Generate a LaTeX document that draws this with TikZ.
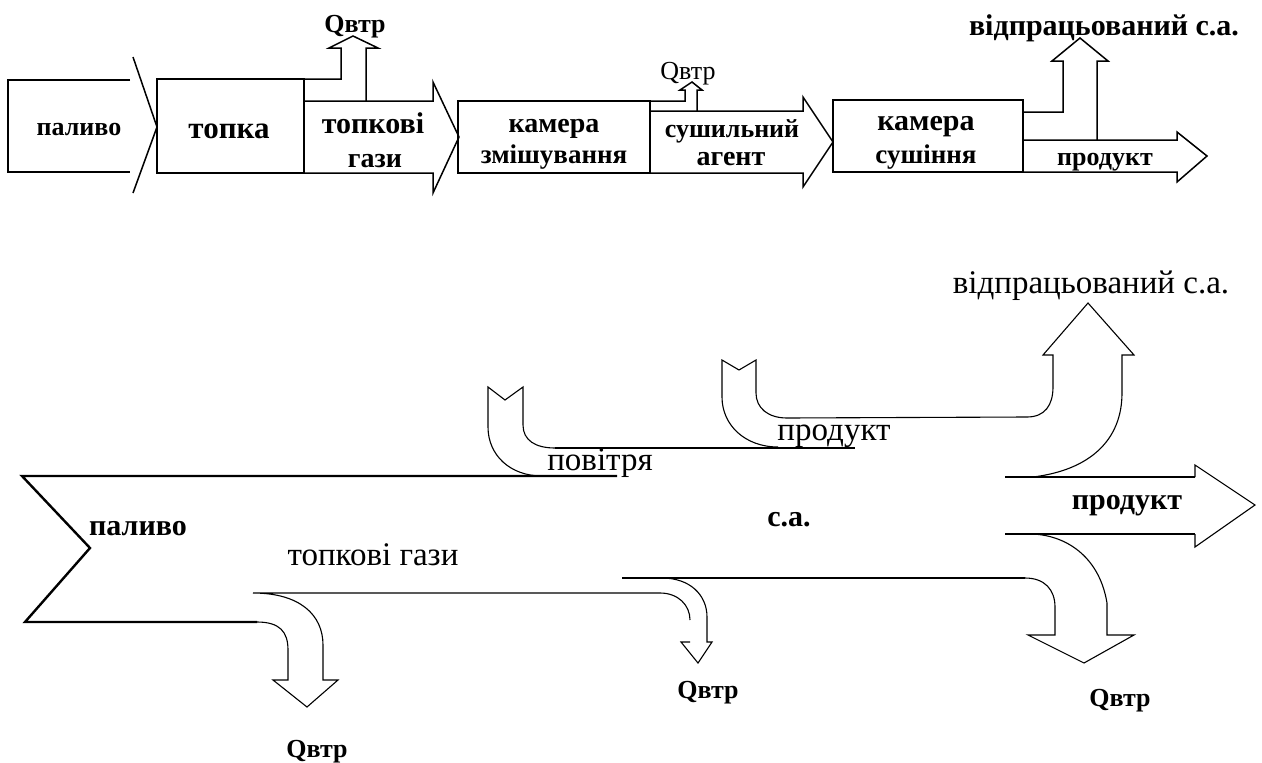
\documentclass[tikz,border=0pt]{standalone}
\usepackage{fontspec}
\setmainfont{Liberation Serif}
\begin{document}
\begin{tikzpicture}[x=1pt,y=-1pt,
  box/.style={draw, line width=1.8pt, inner sep=0pt},
  flow/.style={draw, line width=1.5pt, line join=miter},
  thinflow/.style={draw, line width=1.1pt},
  heavy/.style={draw, line width=2.4pt},
  tlbl/.style={font=\fontsize{26}{30}\selectfont\bfseries, inner sep=0pt, anchor=base},
  blbl/.style={font=\fontsize{33}{36}\selectfont, inner sep=0pt, anchor=base},
  bblbl/.style={font=\fontsize{30}{34}\selectfont\bfseries, inner sep=0pt, anchor=base},
  fs/.style={font=\fontsize{#1}{#1}\selectfont\bfseries},
]
\useasboundingbox (0,0) rectangle (1262,763);

% ---------- upper scheme: boxes and block arrows ----------
% fuel input (open box with chevron)
\draw[flow] (130,80) -- (8,80) -- (8,172) -- (130,172);
\draw[flow] (133,57) -- (157,127) -- (133,193);
\node[box, minimum width=147pt, minimum height=94pt] (topka) at (230.5,126) {};
% flue gases
\draw[flow] (304,101) -- (433,101) -- (433,82) -- (459,137) -- (433,193) -- (433,173) -- (304,173);
\draw[flow] (304,79) -- (341,79) -- (341,48) -- (329,48) -- (353,36) -- (378,48) -- (366,48) -- (366,101);
% mixing chamber
\node[box, minimum width=192pt, minimum height=72pt] (mix) at (554,137) {};
\draw[flow] (650,111) -- (803,111) -- (803,97) -- (833,142) -- (803,187) -- (803,173) -- (650,173);
\draw[flow] (650,101) -- (685,101) -- (685,90) -- (680,90) -- (692,82) -- (702,90) -- (697,90) -- (697,111);
% drying chamber
\node[box, minimum width=190pt, minimum height=72pt] (dry) at (928,136) {};
\draw[flow] (1023,140) -- (1177,140) -- (1177,132) -- (1207,156) -- (1177,182) -- (1177,172) -- (1023,172);
\draw[flow] (1023,112) -- (1063,112) -- (1063,61) -- (1052,61) -- (1080,38) -- (1108,61) -- (1097,61) -- (1097,140);

% upper labels
\node[tlbl] (t1) at (79,135) {паливо};
\node[tlbl, fs=31] (t2) at (229,138) {топка};
\node[tlbl, fs=30] (t3) at (373,133) {топкові};
\node[tlbl, fs=28] (t4) at (375,167) {гази};
\node[tlbl, fs=28] (t5) at (554,132) {камера};
\node[tlbl, fs=27] (t6) at (554,163) {змішування};
\node[tlbl] (t7) at (732,137) {сушильний};
\node[tlbl, fs=28] (t8) at (731,165) {агент};
\node[tlbl, fs=30] (t9) at (926,130) {камера};
\node[tlbl, fs=27] (t10) at (926,163) {сушіння};
\node[tlbl] (t11) at (1105,165) {продукт};
\node[tlbl, fs=30] (t12) at (1104,35) {відпрацьований с.а.};
\node[tlbl] (t13) at (355,32) {Qвтр};
\node[tlbl, font=\fontsize{26}{30}\selectfont] (t14) at (688,79) {Qвтр};

% ---------- lower scheme: flow diagram ----------
% main stream: upper edge and notched tail
\draw[heavy] (617,476) -- (22,476) -- (90,548) -- (25,622) -- (257,622);
% first heat-loss branch
\draw[thinflow] (257,622) .. controls (280,622) and (288,632) .. (288,650) -- (288,680)
  -- (273,680) -- (307,707) -- (338,680) -- (323,680) -- (323,645)
  .. controls (323,615) and (300,593) .. (253,593) -- (660,593)
  .. controls (678,593) and (690,605) .. (690,620);
% second heat-loss branch
\draw[thinflow] (690,642) -- (681,642) -- (698,663) -- (712,642) -- (707,642) -- (707,617)
  .. controls (707,595) and (690,578) .. (662,578);
\draw[line width=1.8pt] (622,578) -- (1025,578);
% third heat-loss branch
\draw[thinflow] (1025,578) .. controls (1045,578) and (1055,590) .. (1055,607) -- (1055,635)
  -- (1028,635) -- (1084,663) -- (1134,635) -- (1107,635) -- (1107,603)
  .. controls (1100,560) and (1070,536) .. (1033,534);
% product outlet
\draw[heavy] (1005,534) -- (1195,534);
\draw[thinflow] (1195,534) -- (1195,547) -- (1255,505) -- (1195,465) -- (1195,477);
\draw[heavy] (1195,477) -- (1005,477);
% spent agent outlet
\draw[thinflow] (1033,477) .. controls (1090,470) and (1122,440) .. (1122,393) -- (1122,355)
  -- (1134,355) -- (1088,303) -- (1043,355) -- (1053,355) -- (1053,387)
  .. controls (1053,405) and (1045,417) .. (1027,417) -- (787,418)
  .. controls (768,418) and (756,408) .. (756,393) -- (756,360) -- (739,370) -- (722,360) -- (722,397)
  .. controls (722,425) and (745,447) .. (778,447);
% air inlet
\draw[thinflow] (555,448) -- (855,448);
\draw[thinflow] (555,448) .. controls (535,448) and (523,440) .. (523,425) -- (523,387)
  -- (505,400) -- (488,387) -- (488,427) .. controls (488,455) and (510,476) .. (542,476);

% lower labels
\node[bblbl] (b1) at (138,535) {паливо};
\node[blbl] (b2) at (373,565) {топкові гази};
\node[bblbl, fs=26] (b3) at (317,757) {Qвтр};
\node[blbl] (b4) at (600,470) {повітря};
\node[blbl] (b5) at (834,440) {продукт};
\node[bblbl] (b6) at (789,526) {с.а.};
\node[bblbl] (b7) at (1127,509) {продукт};
\node[blbl] (b8) at (1091,293) {відпрацьований с.а.};
\node[bblbl, fs=26] (b9) at (1120,706) {Qвтр};
\node[bblbl, fs=26] (b10) at (708,698) {Qвтр};
\end{tikzpicture}
\end{document}
